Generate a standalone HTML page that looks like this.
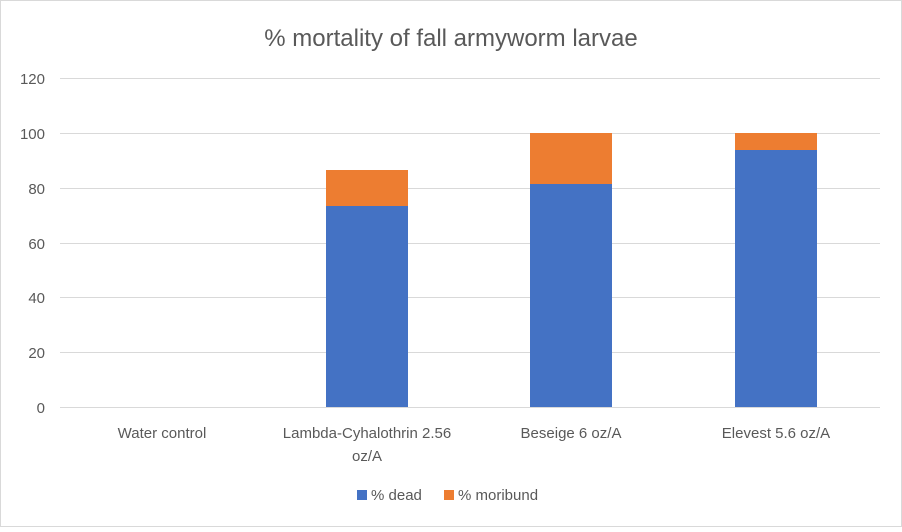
<!DOCTYPE html>
<html><head><style>
body{margin:0;background:#fff;}
text{font-family:"Liberation Sans",sans-serif;fill:#595959;}
</style></head><body>
<svg width="902" height="527" xmlns="http://www.w3.org/2000/svg">
<rect x="0.5" y="0.5" width="901" height="526" fill="#fff" stroke="#d9d9d9"/>
<text x="451" y="46" text-anchor="middle" font-size="24">% mortality of fall armyworm larvae</text>
<g stroke="#d9d9d9" stroke-width="1">
<line x1="60" x2="880" y1="78.5" y2="78.5"/>
<line x1="60" x2="880" y1="133.5" y2="133.5"/>
<line x1="60" x2="880" y1="188.5" y2="188.5"/>
<line x1="60" x2="880" y1="243.5" y2="243.5"/>
<line x1="60" x2="880" y1="297.5" y2="297.5"/>
<line x1="60" x2="880" y1="352.5" y2="352.5"/>
<line x1="60" x2="880" y1="407.5" y2="407.5"/>
</g>
<g font-size="15" text-anchor="end">
<text x="45" y="84">120</text><text x="45" y="139">100</text><text x="45" y="194">80</text>
<text x="45" y="249">60</text><text x="45" y="303">40</text><text x="45" y="358">20</text><text x="45" y="413">0</text>
</g>
<rect x="326" y="206" width="82" height="201" fill="#4472c4"/>
<rect x="326" y="170" width="82" height="36" fill="#ed7d31"/>
<rect x="530" y="184" width="82" height="223" fill="#4472c4"/>
<rect x="530" y="133" width="82" height="51" fill="#ed7d31"/>
<rect x="735" y="150" width="82" height="257" fill="#4472c4"/>
<rect x="735" y="133" width="82" height="17" fill="#ed7d31"/>
<g font-size="15" text-anchor="middle">
<text x="162" y="438">Water control</text>
<text x="367" y="438">Lambda-Cyhalothrin 2.56</text>
<text x="367" y="461">oz/A</text>
<text x="571" y="438">Beseige 6 oz/A</text>
<text x="776" y="438">Elevest 5.6 oz/A</text>
</g>
<rect x="357" y="490" width="10" height="10" fill="#4472c4"/>
<text x="371" y="500" font-size="15">% dead</text>
<rect x="444" y="490" width="10" height="10" fill="#ed7d31"/>
<text x="458" y="500" font-size="15">% moribund</text>
</svg>
</body></html>
